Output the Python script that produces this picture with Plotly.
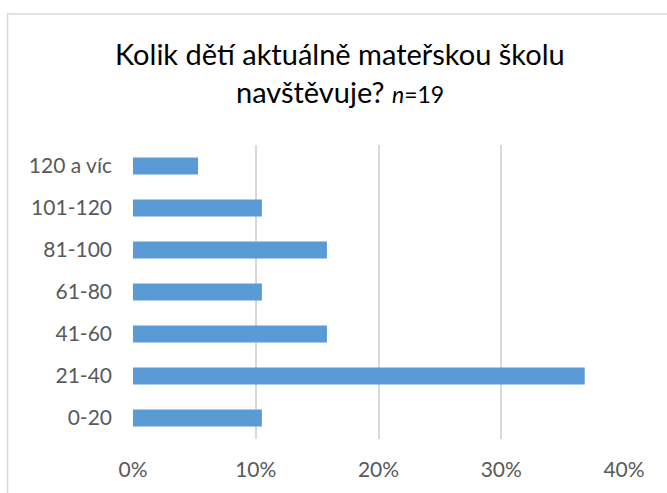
import plotly.graph_objects as go

categories = ["0-20", "21-40", "41-60", "61-80", "81-100", "101-120", "120 a víc"]
values = [10.5, 36.8, 15.8, 10.5, 15.8, 10.5, 5.3]
x_ticks = [0, 10, 20, 30, 40]
x_tick_labels = ["0%", "10%", "20%", "30%", "40%"]
title_line1 = "Kolik dětí aktuálně mateřskou školu"
title_line2 = "navštěvuje? <span style='font-size:23px'><i>n</i>=19</span>"

W, H = 667, 493
L, R, T, B = 133, 624, 145, 442.5
FONT = "Lato"

fig = go.Figure(go.Bar(
    y=categories, x=values, orientation="h",
    marker=dict(color="#5b9bd5", line=dict(width=0)),
    width=0.4,
))

def px_x(p):
    return (p - L) / (R - L)

def px_y(p):
    return (B - p) / (B - T)

fig.update_layout(
    width=W, height=H,
    margin=dict(l=L, r=W - R, t=T, b=H - B),
    paper_bgcolor="white", plot_bgcolor="white",
    showlegend=False,
    xaxis=dict(
        range=[0, 40], tickvals=x_ticks, ticktext=x_tick_labels,
        showgrid=True, gridcolor="#d9d9d9", gridwidth=1.5,
        zeroline=False, showline=False, ticks="",
        tickfont=dict(family=FONT, size=21, color="#595959"),
        ticklabelstandoff=16, fixedrange=True,
    ),
    yaxis=dict(
        showgrid=False, zeroline=False, showline=False, ticks="",
        tickfont=dict(family=FONT, size=21, color="#595959"),
        ticklabelstandoff=20, fixedrange=True,
    ),
    shapes=[dict(
        type="rect", xref="paper", yref="paper",
        x0=px_x(7.5), x1=px_x(700), y0=px_y(520), y1=px_y(12.5),
        line=dict(color="#d9d9d9", width=1.5), fillcolor="rgba(0,0,0,0)",
        layer="below",
    )],
    annotations=[
        dict(text=title_line1, xref="paper", yref="paper",
             x=px_x(340), y=px_y(52), xanchor="center", yanchor="middle",
             showarrow=False, font=dict(family=FONT, size=29, color="black")),
        dict(text=title_line2, xref="paper", yref="paper",
             x=px_x(340), y=px_y(91), xanchor="center", yanchor="middle",
             showarrow=False, font=dict(family=FONT, size=29, color="black")),
    ],
)

fig.write_html("out.html", post_script="document.body.style.margin='0';", config={"displayModeBar": False})
